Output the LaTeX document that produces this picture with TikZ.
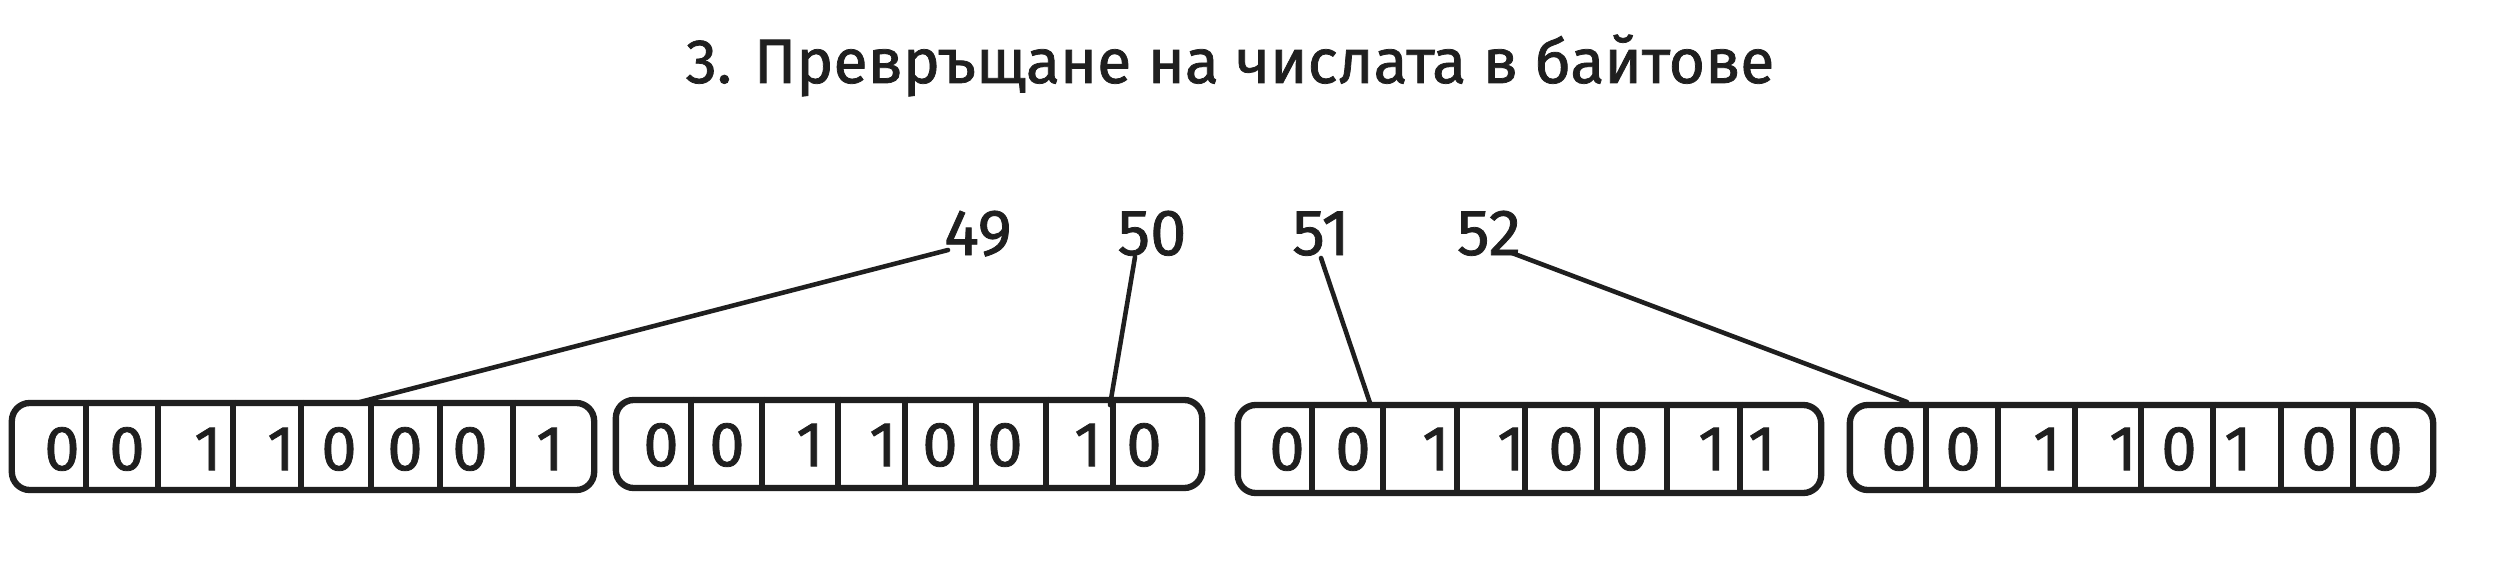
\documentclass[tikz,border=0pt]{standalone}
\usepackage{fontspec}
\setmainfont{Fira Sans}
\newfontfamily\sketchfont{Fira Sans}[FakeBold=1.2]
\begin{document}
\begin{tikzpicture}[x=0.01cm,y=-0.01cm,
  bytebox/.style={draw=black!88,line width=1.8pt,rounded corners=0.18cm,inner sep=0pt},
  divider/.style={draw=black!88,line width=1.5pt},
  bit/.style={font=\sketchfont\fontsize{18}{18}\selectfont,text=black!88,inner sep=0pt,anchor=center},
  numlabel/.style={font=\sketchfont\fontsize{18.5}{18.5}\selectfont,text=black!88,inner sep=0pt,anchor=base},
  link/.style={draw=black!88,line width=1.3pt,line cap=round}]
\useasboundingbox[fill=white] (0,0) rectangle (2493,582);
% title
\node[font=\sketchfont\fontsize{17.8}{17.8}\selectfont,text=black!88,inner sep=0pt,anchor=base] (title) at (1230,83) {3. Превръщане на числата в байтове};
% number labels
\node[numlabel] (n49) at (978,255) {49};
\node[numlabel] (n50) at (1152,255) {50};
\node[numlabel] (n51) at (1321,255) {51};
\node[numlabel] (n52) at (1489,255) {52};
% boxes
\node[bytebox,minimum width=5.82cm,minimum height=0.87cm] (box1) at (303,446.5) {};
\node[bytebox,minimum width=5.86cm,minimum height=0.88cm] (box2) at (909,444) {};
\node[bytebox,minimum width=5.83cm,minimum height=0.88cm] (box3) at (1529.5,449) {};
\node[bytebox,minimum width=5.83cm,minimum height=0.85cm] (box4) at (2141.5,447.5) {};
% dividers
\foreach \b/\xs in {box1/{86,158,233,301,371,440,513},
                    box2/{691,762,838,905,976,1046,1113},
                    box3/{1312,1383,1457,1525,1597,1667,1740},
                    box4/{1926,1998,2075,2141,2213,2281,2353}}{
  \foreach \x in \xs {
    \draw[divider] (\x,0 |- \b.north) -- (\x,0 |- \b.south);
  }
}
% bits
\foreach \b/\y/\list in {box1/449/{62/0,127/0,208/1,281/1,339/0,405/0,470/0,550/1},
                        box2/445/{661/0,727/0,810/1,883/1,940/0,1005/0,1088/1,1144/0},
                        box3/449/{1287/0,1353/0,1436/1,1511/1,1566/0,1631/0,1712/1,1762/1},
                        box4/449/{1899/0,1963/0,2047/1,2123/1,2179/0,2238/1,2319/0,2385/0}}{
  \foreach \x/\v in \list {
    \node[bit] (\b-\x) at (\x,\y) {\v};
  }
}
% connectors
\coordinate (a49) at (948,250);
\coordinate (b49) at (360,402);
\coordinate (a50) at (1135,257);
\coordinate (b50) at (1110,405);
\coordinate (a51) at (1321,258);
\coordinate (b51) at (1370,403);
\coordinate (a52) at (1512,253);
\coordinate (b52) at (1907,402);
\draw[link] (a49) -- (b49);
\draw[link] (a50) -- (b50);
\draw[link] (a51) -- (b51);
\draw[link] (a52) -- (b52);
\end{tikzpicture}
\end{document}
